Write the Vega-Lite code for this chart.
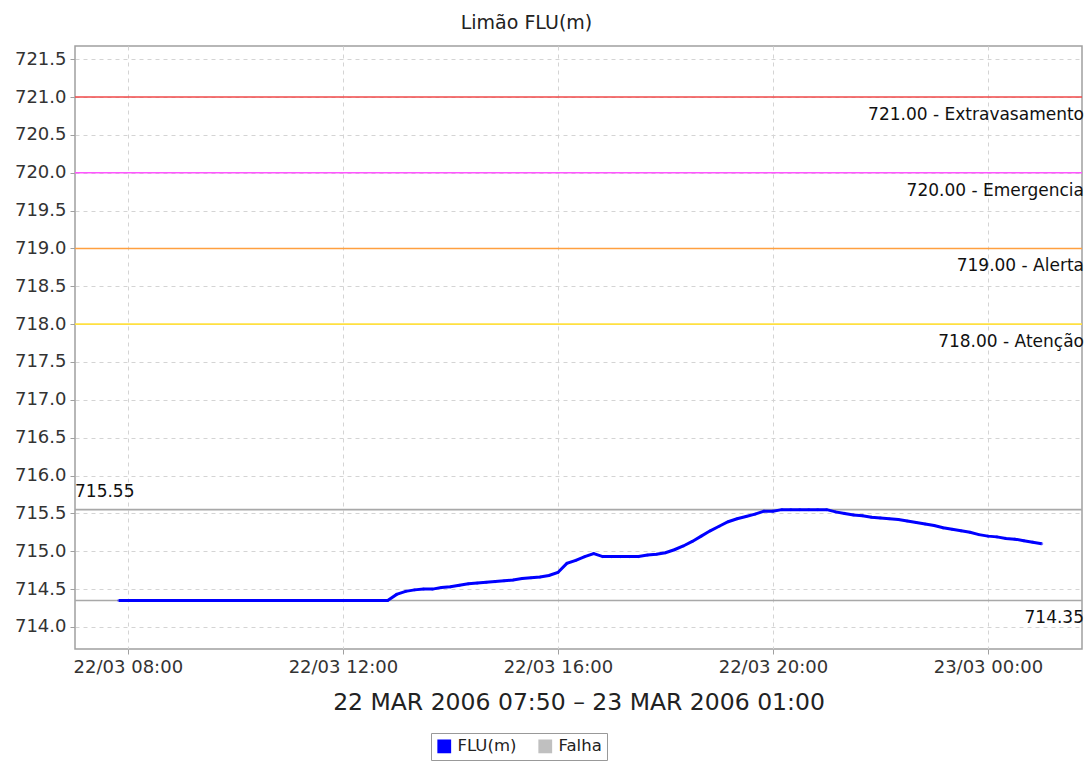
{
  "$schema": "https://vega.github.io/schema/vega-lite/v6.json",
  "width": 1007,
  "height": 603,
  "autosize": "none",
  "padding": {"left": 75, "top": 46, "right": 8, "bottom": 115},
  "background": "white",
  "title": {"text": "Limão FLU(m)", "fontSize": 19, "fontWeight": "normal", "font": "DejaVu Sans", "color": "#222", "anchor": "middle", "dx": -52, "offset": 13},
  "config": {
    "font": "DejaVu Sans",
    "view": {"stroke": "#a0a0a0", "strokeWidth": 1.5},
    "axis": {"domain": false, "gridDash": [4, 4], "gridColor": "#d4d4d4", "gridWidth": 1, "tickColor": "#a0a0a0", "tickSize": 5, "labelFontSize": 18, "labelColor": "#333", "labelFont": "DejaVu Sans"}
  },
  "datasets": {
    "flu": [
      {"t": "2006-03-22T07:50:00Z", "v": 714.35, "serie": "FLU(m)"},
      {"t": "2006-03-22T08:00:00Z", "v": 714.35, "serie": "FLU(m)"},
      {"t": "2006-03-22T08:10:00Z", "v": 714.35, "serie": "FLU(m)"},
      {"t": "2006-03-22T08:20:00Z", "v": 714.35, "serie": "FLU(m)"},
      {"t": "2006-03-22T08:30:00Z", "v": 714.35, "serie": "FLU(m)"},
      {"t": "2006-03-22T08:40:00Z", "v": 714.35, "serie": "FLU(m)"},
      {"t": "2006-03-22T08:50:00Z", "v": 714.35, "serie": "FLU(m)"},
      {"t": "2006-03-22T09:00:00Z", "v": 714.35, "serie": "FLU(m)"},
      {"t": "2006-03-22T09:10:00Z", "v": 714.35, "serie": "FLU(m)"},
      {"t": "2006-03-22T09:20:00Z", "v": 714.35, "serie": "FLU(m)"},
      {"t": "2006-03-22T09:30:00Z", "v": 714.35, "serie": "FLU(m)"},
      {"t": "2006-03-22T09:40:00Z", "v": 714.35, "serie": "FLU(m)"},
      {"t": "2006-03-22T09:50:00Z", "v": 714.35, "serie": "FLU(m)"},
      {"t": "2006-03-22T10:00:00Z", "v": 714.35, "serie": "FLU(m)"},
      {"t": "2006-03-22T10:10:00Z", "v": 714.35, "serie": "FLU(m)"},
      {"t": "2006-03-22T10:20:00Z", "v": 714.35, "serie": "FLU(m)"},
      {"t": "2006-03-22T10:30:00Z", "v": 714.35, "serie": "FLU(m)"},
      {"t": "2006-03-22T10:40:00Z", "v": 714.35, "serie": "FLU(m)"},
      {"t": "2006-03-22T10:50:00Z", "v": 714.35, "serie": "FLU(m)"},
      {"t": "2006-03-22T11:00:00Z", "v": 714.35, "serie": "FLU(m)"},
      {"t": "2006-03-22T11:10:00Z", "v": 714.35, "serie": "FLU(m)"},
      {"t": "2006-03-22T11:20:00Z", "v": 714.35, "serie": "FLU(m)"},
      {"t": "2006-03-22T11:30:00Z", "v": 714.35, "serie": "FLU(m)"},
      {"t": "2006-03-22T11:40:00Z", "v": 714.35, "serie": "FLU(m)"},
      {"t": "2006-03-22T11:50:00Z", "v": 714.35, "serie": "FLU(m)"},
      {"t": "2006-03-22T12:00:00Z", "v": 714.35, "serie": "FLU(m)"},
      {"t": "2006-03-22T12:10:00Z", "v": 714.35, "serie": "FLU(m)"},
      {"t": "2006-03-22T12:20:00Z", "v": 714.35, "serie": "FLU(m)"},
      {"t": "2006-03-22T12:30:00Z", "v": 714.35, "serie": "FLU(m)"},
      {"t": "2006-03-22T12:40:00Z", "v": 714.35, "serie": "FLU(m)"},
      {"t": "2006-03-22T12:50:00Z", "v": 714.35, "serie": "FLU(m)"},
      {"t": "2006-03-22T13:00:00Z", "v": 714.43, "serie": "FLU(m)"},
      {"t": "2006-03-22T13:10:00Z", "v": 714.47, "serie": "FLU(m)"},
      {"t": "2006-03-22T13:20:00Z", "v": 714.49, "serie": "FLU(m)"},
      {"t": "2006-03-22T13:30:00Z", "v": 714.50, "serie": "FLU(m)"},
      {"t": "2006-03-22T13:40:00Z", "v": 714.50, "serie": "FLU(m)"},
      {"t": "2006-03-22T13:50:00Z", "v": 714.52, "serie": "FLU(m)"},
      {"t": "2006-03-22T14:00:00Z", "v": 714.53, "serie": "FLU(m)"},
      {"t": "2006-03-22T14:10:00Z", "v": 714.55, "serie": "FLU(m)"},
      {"t": "2006-03-22T14:20:00Z", "v": 714.57, "serie": "FLU(m)"},
      {"t": "2006-03-22T14:30:00Z", "v": 714.58, "serie": "FLU(m)"},
      {"t": "2006-03-22T14:40:00Z", "v": 714.59, "serie": "FLU(m)"},
      {"t": "2006-03-22T14:50:00Z", "v": 714.60, "serie": "FLU(m)"},
      {"t": "2006-03-22T15:00:00Z", "v": 714.61, "serie": "FLU(m)"},
      {"t": "2006-03-22T15:10:00Z", "v": 714.62, "serie": "FLU(m)"},
      {"t": "2006-03-22T15:20:00Z", "v": 714.64, "serie": "FLU(m)"},
      {"t": "2006-03-22T15:30:00Z", "v": 714.65, "serie": "FLU(m)"},
      {"t": "2006-03-22T15:40:00Z", "v": 714.66, "serie": "FLU(m)"},
      {"t": "2006-03-22T15:50:00Z", "v": 714.68, "serie": "FLU(m)"},
      {"t": "2006-03-22T16:00:00Z", "v": 714.72, "serie": "FLU(m)"},
      {"t": "2006-03-22T16:10:00Z", "v": 714.84, "serie": "FLU(m)"},
      {"t": "2006-03-22T16:20:00Z", "v": 714.88, "serie": "FLU(m)"},
      {"t": "2006-03-22T16:30:00Z", "v": 714.93, "serie": "FLU(m)"},
      {"t": "2006-03-22T16:40:00Z", "v": 714.97, "serie": "FLU(m)"},
      {"t": "2006-03-22T16:50:00Z", "v": 714.93, "serie": "FLU(m)"},
      {"t": "2006-03-22T17:00:00Z", "v": 714.93, "serie": "FLU(m)"},
      {"t": "2006-03-22T17:10:00Z", "v": 714.93, "serie": "FLU(m)"},
      {"t": "2006-03-22T17:20:00Z", "v": 714.93, "serie": "FLU(m)"},
      {"t": "2006-03-22T17:30:00Z", "v": 714.93, "serie": "FLU(m)"},
      {"t": "2006-03-22T17:40:00Z", "v": 714.95, "serie": "FLU(m)"},
      {"t": "2006-03-22T17:50:00Z", "v": 714.96, "serie": "FLU(m)"},
      {"t": "2006-03-22T18:00:00Z", "v": 714.98, "serie": "FLU(m)"},
      {"t": "2006-03-22T18:10:00Z", "v": 715.02, "serie": "FLU(m)"},
      {"t": "2006-03-22T18:20:00Z", "v": 715.07, "serie": "FLU(m)"},
      {"t": "2006-03-22T18:30:00Z", "v": 715.13, "serie": "FLU(m)"},
      {"t": "2006-03-22T18:40:00Z", "v": 715.20, "serie": "FLU(m)"},
      {"t": "2006-03-22T18:50:00Z", "v": 715.27, "serie": "FLU(m)"},
      {"t": "2006-03-22T19:00:00Z", "v": 715.33, "serie": "FLU(m)"},
      {"t": "2006-03-22T19:10:00Z", "v": 715.39, "serie": "FLU(m)"},
      {"t": "2006-03-22T19:20:00Z", "v": 715.43, "serie": "FLU(m)"},
      {"t": "2006-03-22T19:30:00Z", "v": 715.46, "serie": "FLU(m)"},
      {"t": "2006-03-22T19:40:00Z", "v": 715.49, "serie": "FLU(m)"},
      {"t": "2006-03-22T19:50:00Z", "v": 715.53, "serie": "FLU(m)"},
      {"t": "2006-03-22T20:00:00Z", "v": 715.53, "serie": "FLU(m)"},
      {"t": "2006-03-22T20:10:00Z", "v": 715.55, "serie": "FLU(m)"},
      {"t": "2006-03-22T20:20:00Z", "v": 715.55, "serie": "FLU(m)"},
      {"t": "2006-03-22T20:30:00Z", "v": 715.55, "serie": "FLU(m)"},
      {"t": "2006-03-22T20:40:00Z", "v": 715.55, "serie": "FLU(m)"},
      {"t": "2006-03-22T20:50:00Z", "v": 715.55, "serie": "FLU(m)"},
      {"t": "2006-03-22T21:00:00Z", "v": 715.55, "serie": "FLU(m)"},
      {"t": "2006-03-22T21:10:00Z", "v": 715.52, "serie": "FLU(m)"},
      {"t": "2006-03-22T21:20:00Z", "v": 715.50, "serie": "FLU(m)"},
      {"t": "2006-03-22T21:30:00Z", "v": 715.48, "serie": "FLU(m)"},
      {"t": "2006-03-22T21:40:00Z", "v": 715.47, "serie": "FLU(m)"},
      {"t": "2006-03-22T21:50:00Z", "v": 715.45, "serie": "FLU(m)"},
      {"t": "2006-03-22T22:00:00Z", "v": 715.44, "serie": "FLU(m)"},
      {"t": "2006-03-22T22:10:00Z", "v": 715.43, "serie": "FLU(m)"},
      {"t": "2006-03-22T22:20:00Z", "v": 715.42, "serie": "FLU(m)"},
      {"t": "2006-03-22T22:30:00Z", "v": 715.40, "serie": "FLU(m)"},
      {"t": "2006-03-22T22:40:00Z", "v": 715.38, "serie": "FLU(m)"},
      {"t": "2006-03-22T22:50:00Z", "v": 715.36, "serie": "FLU(m)"},
      {"t": "2006-03-22T23:00:00Z", "v": 715.34, "serie": "FLU(m)"},
      {"t": "2006-03-22T23:10:00Z", "v": 715.31, "serie": "FLU(m)"},
      {"t": "2006-03-22T23:20:00Z", "v": 715.29, "serie": "FLU(m)"},
      {"t": "2006-03-22T23:30:00Z", "v": 715.27, "serie": "FLU(m)"},
      {"t": "2006-03-22T23:40:00Z", "v": 715.25, "serie": "FLU(m)"},
      {"t": "2006-03-22T23:50:00Z", "v": 715.22, "serie": "FLU(m)"},
      {"t": "2006-03-23T00:00:00Z", "v": 715.20, "serie": "FLU(m)"},
      {"t": "2006-03-23T00:10:00Z", "v": 715.19, "serie": "FLU(m)"},
      {"t": "2006-03-23T00:20:00Z", "v": 715.17, "serie": "FLU(m)"},
      {"t": "2006-03-23T00:30:00Z", "v": 715.16, "serie": "FLU(m)"},
      {"t": "2006-03-23T00:40:00Z", "v": 715.14, "serie": "FLU(m)"},
      {"t": "2006-03-23T00:50:00Z", "v": 715.12, "serie": "FLU(m)"},
      {"t": "2006-03-23T01:00:00Z", "v": 715.10, "serie": "FLU(m)"}
    ],
    "niveis": [
      {"nivel": "Extravasamento", "valor": 721.0, "rotulo": "721.00 - Extravasamento", "lado": "direita"},
      {"nivel": "Emergencia", "valor": 720.0, "rotulo": "720.00 - Emergencia", "lado": "direita"},
      {"nivel": "Alerta", "valor": 719.0, "rotulo": "719.00 - Alerta", "lado": "direita"},
      {"nivel": "Atenção", "valor": 718.0, "rotulo": "718.00 - Atenção", "lado": "direita"},
      {"nivel": "Máximo", "valor": 715.55, "rotulo": "715.55", "lado": "esquerda"},
      {"nivel": "Mínimo", "valor": 714.35, "rotulo": "714.35", "lado": "direita"}
    ]
  },
  "layer": [
    {
      "data": {"name": "niveis"},
      "mark": {"type": "rule", "strokeWidth": 1.6},
      "encoding": {
        "y": {"field": "valor", "type": "quantitative", "scale": {"domain": [713.709, 721.674], "nice": false, "zero": false},
          "axis": {"values": [714.0, 714.5, 715.0, 715.5, 716.0, 716.5, 717.0, 717.5, 718.0, 718.5, 719.0, 719.5, 720.0, 720.5, 721.0, 721.5], "format": ".1f", "title": null, "labelPadding": 4}},
        "stroke": {"field": "nivel", "type": "nominal", "legend": null,
          "scale": {"domain": ["Extravasamento", "Emergencia", "Alerta", "Atenção", "Máximo", "Mínimo"], "range": ["#f04848", "#ff55ff", "#ffa040", "#ffe040", "#a8a8a8", "#a8a8a8"]}}
      }
    },
    {
      "data": {"name": "flu"},
      "mark": {"type": "line", "strokeWidth": 3, "point": {"filled": true, "size": 10, "opacity": 0.5}},
      "encoding": {
        "x": {
          "field": "t", "type": "temporal",
          "scale": {"type": "utc", "domain": [1143010860000, 1143078300000]},
          "axis": {
            "values": [1143014400000, 1143028800000, 1143043200000, 1143057600000, 1143072000000],
            "labelExpr": "utcFormat(datum.value, '%d/%m %H:%M')",
            "labelPadding": 4, "labelFlush": false,
            "title": "22 MAR 2006 07:50 – 23 MAR 2006 01:00",
            "titleFontSize": 23.5, "titleFontWeight": "normal", "titleColor": "#222", "titlePadding": 14, "titleFont": "DejaVu Sans"
          }
        },
        "y": {"field": "v", "type": "quantitative"},
        "color": {"field": "serie", "type": "nominal",
          "scale": {"domain": ["FLU(m)", "Falha"], "range": ["#0000ff", "#c0c0c0"]},
          "legend": {"title": null, "orient": "none", "legendX": 356, "legendY": 687, "direction": "horizontal",
            "symbolType": "square", "symbolSize": 190, "symbolStrokeWidth": 0, "labelFontSize": 16.5, "labelColor": "#222",
            "columnPadding": 20, "labelOffset": 5, "padding": 5, "strokeColor": "#999", "fillColor": "white",
            "encode": {"symbols": {"update": {"fill": {"scale": "color", "field": "value"}, "opacity": {"value": 1}}}}}
        }
      }
    },
    {
      "data": {"name": "niveis"},
      "transform": [{"filter": "datum.lado == 'direita'"}],
      "mark": {"type": "text", "align": "right", "baseline": "middle", "dy": 18, "dx": 2, "fontSize": 17, "fill": "#111"},
      "encoding": {
        "x": {"value": "width"},
        "y": {"field": "valor", "type": "quantitative"},
        "text": {"field": "rotulo", "type": "nominal"}
      }
    },
    {
      "data": {"name": "niveis"},
      "transform": [{"filter": "datum.lado == 'esquerda'"}],
      "mark": {"type": "text", "align": "left", "baseline": "middle", "dy": -18, "dx": 0, "fontSize": 17, "fill": "#111"},
      "encoding": {
        "x": {"value": 0},
        "y": {"field": "valor", "type": "quantitative"},
        "text": {"field": "rotulo", "type": "nominal"}
      }
    }
  ]
}
